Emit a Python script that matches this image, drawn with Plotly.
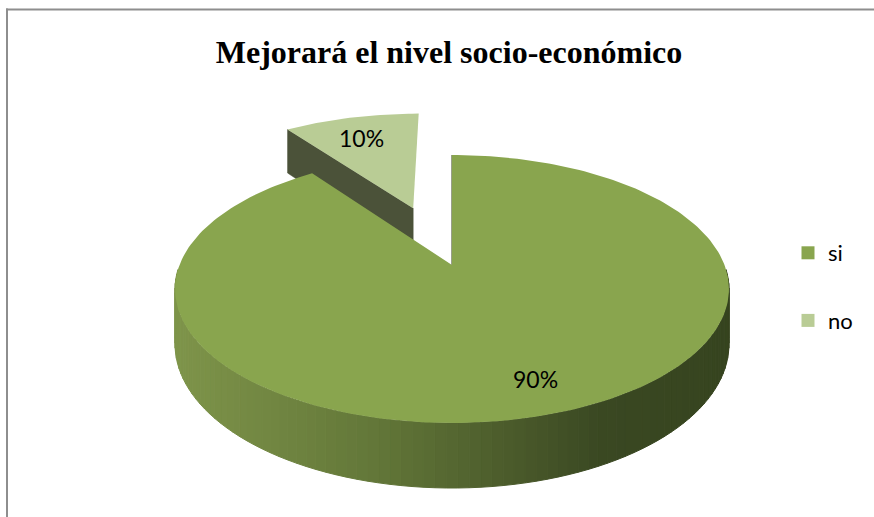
import numpy as np
import plotly.graph_objects as go

# Chart data
categories = ["si", "no"]
values = [90, 10]
labels = ["90%", "10%"]
top_colors = ["#89A54E", "#B9CC95"]
edge_color = "#4B5239"
title_text = "Mejorará el nivel socio-económico"

# 3-D pie geometry (pixel space, y grows downwards)
CX, CY = 452, 265          # pie centre on screen
RX, RY, PERSP = 272.5, 129.7, 0.179
DEPTH = 53.4               # thickness of the disc
EXPLODE = [0.0, 0.5]       # explosion of each slice (fraction of radius)
LABEL_R = [0.86, 0.8]

W, H = 874, 517


def project(x, z, drop=0.0):
    w = 1 + PERSP * z
    return CX + RX * x / w, CY - RY * z / w + drop * DEPTH / w


def rim(theta_deg, off, drop=0.0):
    t = np.radians(theta_deg)
    return project(np.sin(t) + off[0], np.cos(t) + off[1], drop)


def side_color(px):
    stops = [(177, (126, 148, 74)), (380, (98, 118, 56)),
             (600, (58, 72, 34)), (732, (54, 68, 31))]
    for (x0, c0), (x1, c1) in zip(stops[:-1], stops[1:]):
        if px <= x1:
            f = max(0.0, (px - x0) / (x1 - x0))
            c = [round(a + (b - a) * f) for a, b in zip(c0, c1)]
            return "rgb({},{},{})".format(*c)
    return "rgb({},{},{})".format(*stops[-1][1])


fig = go.Figure()

total = sum(values)
starts = np.cumsum([0] + values[:-1]) / total * 360
ends = np.cumsum(values) / total * 360

slices = []
for cat, val, s, e, ex in zip(categories, values, starts, ends, EXPLODE):
    mid = np.radians((s + e) / 2)
    off = (ex * np.sin(mid), ex * np.cos(mid))
    slices.append((s, e, off, mid))

# exploded slice: visible radial face on its leading edge, then its top
for i in [1]:
    s, e, off, mid = slices[i]
    ox, oy = rim(s, off)
    obx, oby = rim(s, off, 1)
    tx, ty = project(off[0], off[1])
    tbx, tby = project(off[0], off[1], 1)
    fig.add_trace(go.Scatter(x=[ox, tx, tbx, obx, ox], y=[oy, ty, tby, oby, oy],
                             fill="toself", fillcolor=edge_color, mode="lines",
                             line=dict(width=0.5, color=edge_color),
                             hoverinfo="skip", showlegend=False))
    th = np.linspace(s, e, 40)
    ax, ay = rim(th, off)
    fig.add_trace(go.Scatter(x=np.concatenate([[tx], ax, [tx]]),
                             y=np.concatenate([[ty], ay, [ty]]),
                             fill="toself", fillcolor=top_colors[i], mode="lines",
                             line=dict(width=0), hoverinfo="skip", showlegend=False))

# large slice: shaded outer wall, split into thin strips
s, e, off, mid = slices[0]
a0, a1 = max(s, 92), min(e, 268)
edges = np.linspace(a0, a1, 90)
for t0, t1 in zip(edges[:-1], edges[1:]):
    th = np.linspace(t0, t1, 3)
    ux, uy = rim(th, off)
    bx, by = rim(th[::-1], off, 1)
    xs = np.concatenate([ux, bx, ux[:1]])
    ys = np.concatenate([uy, by, uy[:1]])
    col = side_color(float(np.mean(ux)))
    fig.add_trace(go.Scatter(x=xs, y=ys, fill="toself", fillcolor=col, mode="lines",
                             line=dict(width=1, color=col),
                             hoverinfo="skip", showlegend=False))

# large slice: edge-on radial face at 12 o'clock
tx, ty = project(off[0], off[1])
ex_, ey_ = rim(s, off)
fig.add_trace(go.Scatter(x=[tx, ex_], y=[ty, ey_], mode="lines",
                         line=dict(width=1.2, color="#55603C"),
                         hoverinfo="skip", showlegend=False))

# large slice: top face
th = np.linspace(s, e, 240)
ax, ay = rim(th, off)
fig.add_trace(go.Scatter(x=np.concatenate([[tx], ax, [tx]]),
                         y=np.concatenate([[ty], ay, [ty]]),
                         fill="toself", fillcolor=top_colors[0], mode="lines",
                         line=dict(width=0), hoverinfo="skip", showlegend=False))

# percentage labels on the slice tops
for (s, e, off, mid), lab, lr in zip(slices, labels, LABEL_R):
    lx, ly = project(off[0] + lr * np.sin(mid), off[1] + lr * np.cos(mid) * 0.93)
    fig.add_annotation(x=lx, y=ly, text=lab, showarrow=False,
                       font=dict(family="Lato", size=23, color="#000000"))

# legend entries
for i, (cat, col) in enumerate(zip(categories, top_colors)):
    fig.add_trace(go.Scatter(x=[None], y=[None], mode="markers", name=cat,
                             marker=dict(symbol="square", size=13, color=col),
                             legendgroup=cat, showlegend=True))

# chart frame: top and left edges only
fig.add_shape(type="rect", xref="paper", yref="paper", layer="below",
              x0=6 / W, y0=1 - 8.5 / H, x1=1.0, y1=1 - 10.5 / H,
              fillcolor="#8E8E8E", line=dict(width=0))
fig.add_shape(type="rect", xref="paper", yref="paper", layer="below",
              x0=6 / W, y0=1 - 8.5 / H, x1=8 / W, y1=0.0,
              fillcolor="#8E8E8E", line=dict(width=0))

fig.update_layout(
    width=W, height=H,
    margin=dict(l=0, r=0, t=0, b=0),
    paper_bgcolor="white", plot_bgcolor="rgba(0,0,0,0)",
    xaxis=dict(range=[0, W], visible=False, fixedrange=True, showline=False),
    yaxis=dict(range=[H, 0], visible=False, fixedrange=True, showline=False),
    title=dict(text="<b>" + title_text + "</b>", x=449 / W, xanchor="center",
               y=1 - 52 / H, yanchor="middle",
               font=dict(family="Liberation Serif", size=32, color="#000000")),
    legend=dict(x=788 / W, xanchor="left", y=1 - 232 / H, yanchor="top",
                font=dict(family="Lato", size=22, color="#000000"),
                tracegroupgap=36, itemwidth=30, bgcolor="rgba(0,0,0,0)",
                borderwidth=0),
    showlegend=True,
)

fig.write_html("out.html", config={"displayModeBar": False})
